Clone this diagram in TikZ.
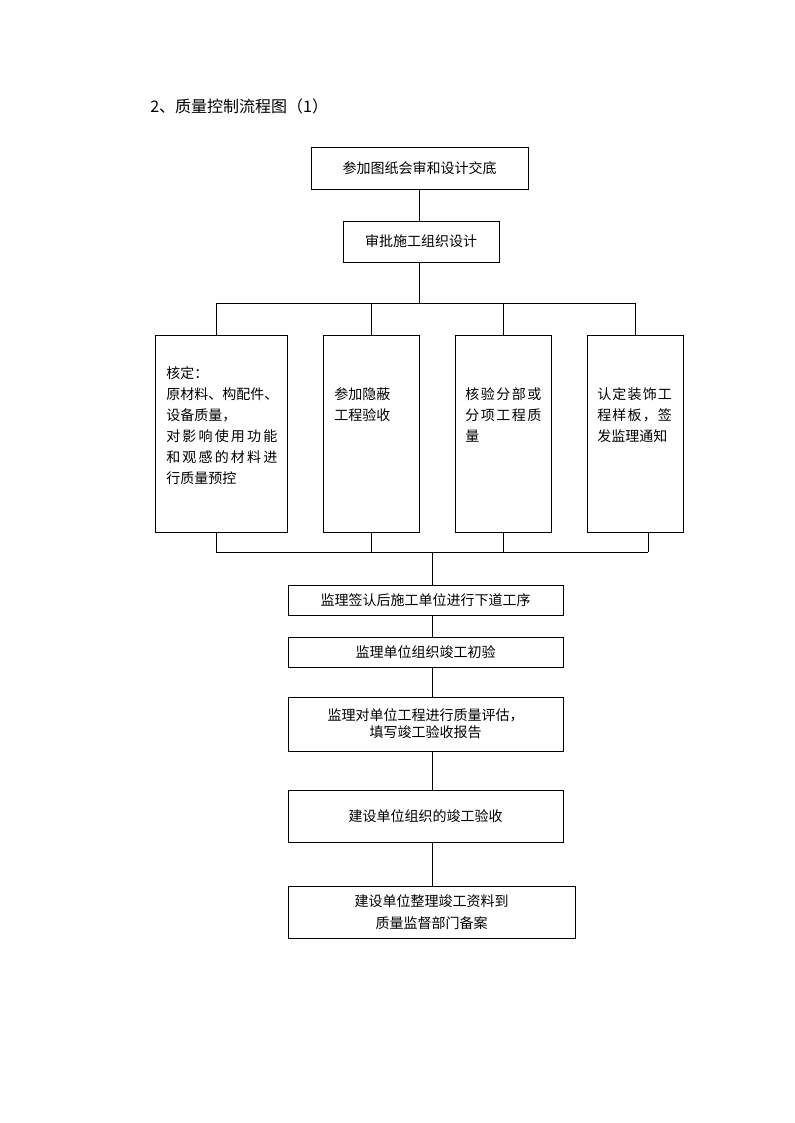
\documentclass[tikz,border=0pt]{standalone}
\usepackage{fontspec}
\newfontfamily\cjk{Noto Sans CJK SC}
\usetikzlibrary{positioning}
\newcommand\spreadrow[2]{\makebox[#1][s]{#2}}

\begin{document}
\begin{tikzpicture}[x=0.75pt,y=-0.75pt,
    box/.style={draw,line width=0.6pt,inner sep=0pt,align=center,
        minimum width=206.25pt,font=\cjk\fontsize{10.5}{12.5}\selectfont},
    tall/.style={draw,line width=0.6pt,inner sep=0pt,minimum width=72pt,
        minimum height=147.75pt},
    txt/.style={anchor=north west,inner sep=0pt,align=left,
        font=\cjk\fontsize{10.5}{15.75}\selectfont},
    link/.style={line width=0.6pt}
]
\useasboundingbox (0,0) rectangle (794,1123);
\node[anchor=west,inner sep=0pt,font=\cjk\fontsize{12}{14}\selectfont] (title)
    at (150,106) {2、质量控制流程图（1）};
\node[box,minimum width=162.75pt,minimum height=31.5pt] (review) at (419.5,168)
    {参加图纸会审和设计交底};
\node[box,minimum width=117pt,minimum height=30.75pt] (plan) at (421,241.5)
    {审批施工组织设计};
\node[tall,minimum width=99pt] (verify) at (221,433.5) {};
\node[tall] (hidden) at (371,433.5) {};
\node[tall] (subitem) at (503,433.5) {};
\node[tall] (sample) at (635,433.5) {};
\node[txt] (verifytxt) at (166,366) {核定：\\原材料、构配件、\\设备质量，\\
    \spreadrow{83.25pt}{对\hfill 影\hfill 响\hfill 使\hfill 用\hfill 功\hfill 能}\\
    \spreadrow{83.25pt}{和\hfill 观\hfill 感\hfill 的\hfill 材\hfill 料\hfill 进}\\
    行质量预控};
\node[txt] (hiddentxt) at (334,387.5) {参加隐蔽\\工程验收};
\node[txt] (subitemtxt) at (465,387.5)
    {\spreadrow{57pt}{核\hfill 验\hfill 分\hfill 部\hfill 或}\\
    \spreadrow{57pt}{分\hfill 项\hfill 工\hfill 程\hfill 质}\\量};
\node[txt] (sampletxt) at (597,387.5)
    {\spreadrow{56pt}{认\hfill 定\hfill 装\hfill 饰\hfill 工}\\
    \spreadrow{56pt}{程\hfill 样\hfill 板\hfill ，\hfill 签}\\发监理通知};
\node[box,minimum height=22.5pt] (next) at (425.5,600)
    {监理签认后施工单位进行下道工序};
\node[box,minimum height=22.5pt] (prechk) at (425.5,652)
    {监理单位组织竣工初验};
\node[box,minimum height=40.5pt] (assess) at (425.5,724)
    {监理对单位工程进行质量评估，\\填写竣工验收报告};
\node[box,minimum height=39pt] (accept) at (425.5,816)
    {建设单位组织的竣工验收};
\node[box,minimum width=215.25pt,minimum height=39pt] (archive) at (431.5,912)
    {建设单位整理竣工资料到\\[4pt]质量监督部门备案};
\coordinate (fork) at (419,303);
\coordinate (forkl) at (216,303);
\coordinate (forkr) at (635,303);
\coordinate (join) at (432,552);
\coordinate (joinl) at (216,552);
\coordinate (joinr) at (648,552);
\draw[link] (review) -- (review.south |- plan.north);
\draw[link] (plan.south -| fork) -- (fork);
\draw[link] (forkl) -- (forkr);
\draw[link] (forkl) -- (forkl |- verify.north);
\draw[link] (hidden.north) -- (hidden.north |- fork);
\draw[link] (subitem.north) -- (subitem.north |- fork);
\draw[link] (forkr) -- (sample.north);
\draw[link] (joinl) -- (joinr);
\draw[link] (joinl) -- (joinl |- verify.south);
\draw[link] (hidden.south) -- (hidden.south |- join);
\draw[link] (subitem.south) -- (subitem.south |- join);
\draw[link] (joinr) -- (joinr |- sample.south);
\draw[link] (join) -- (join |- next.north);
\draw[link] (next.south -| join) -- (prechk.north -| join);
\draw[link] (prechk.south -| join) -- (assess.north -| join);
\draw[link] (assess.south -| join) -- (accept.north -| join);
\draw[link] (accept.south -| join) -- (archive.north -| join);
\end{tikzpicture}
\end{document}
